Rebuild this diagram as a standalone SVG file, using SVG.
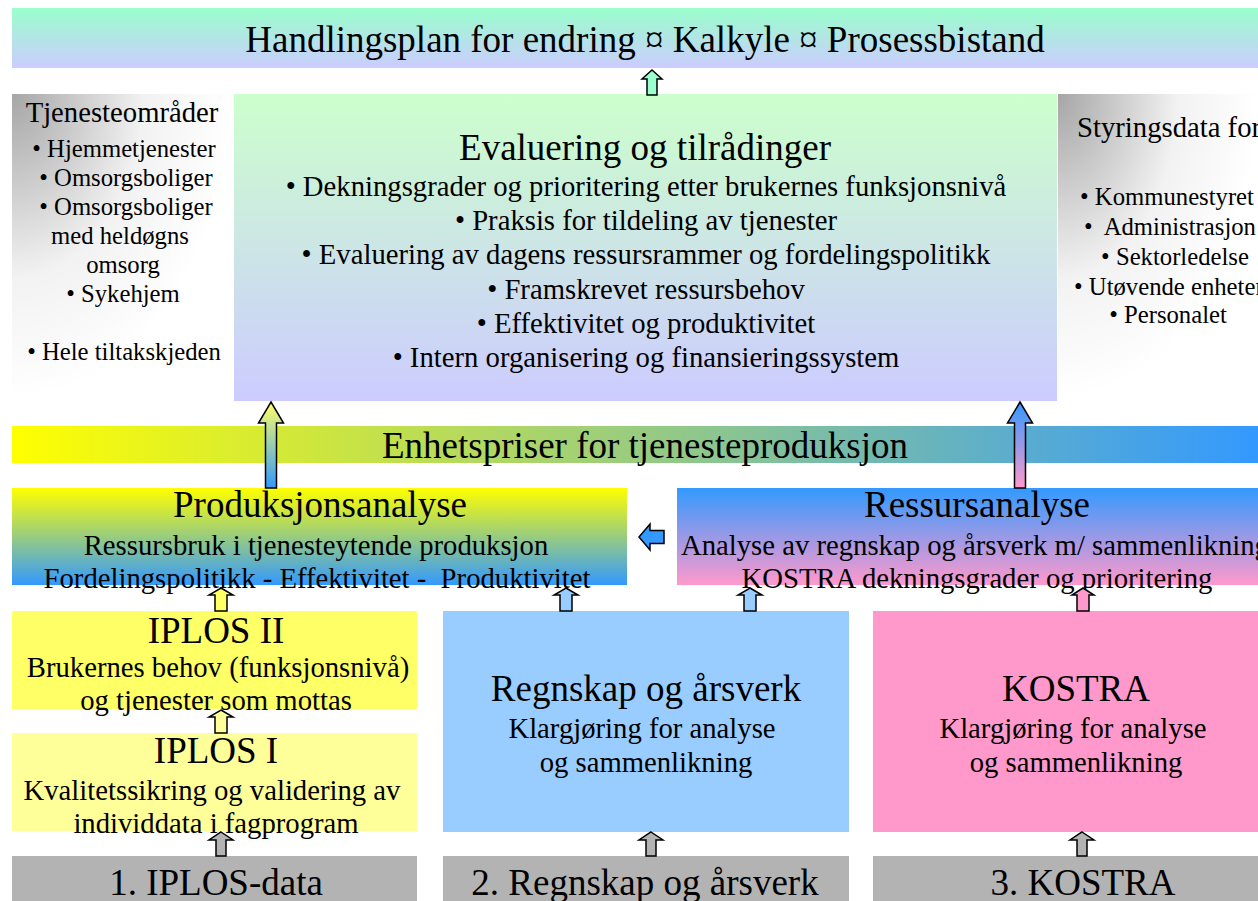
<svg xmlns="http://www.w3.org/2000/svg" width="1258" height="901" viewBox="0 0 1258 901">
<defs>
<style>
text{font-family:"Liberation Serif","Times New Roman",serif;fill:#000;text-anchor:middle}
.t36{font-size:37px}
.t28{font-size:28.7px}
.t24{font-size:24.7px}
.arr{stroke:#000;stroke-width:1.5;stroke-linejoin:miter}
</style>
<linearGradient id="gTop" x1="0" y1="0" x2="0" y2="1"><stop offset="0" stop-color="#99FFCC"/><stop offset="1" stop-color="#CCCCFF"/></linearGradient>
<linearGradient id="gEval" x1="0" y1="0" x2="0" y2="1"><stop offset="0" stop-color="#CCFFCC"/><stop offset="1" stop-color="#CCCCFF"/></linearGradient>
<linearGradient id="gBand" x1="0" y1="0" x2="1" y2="0"><stop offset="0" stop-color="#FFFF00"/><stop offset="1" stop-color="#3399FF"/></linearGradient>
<linearGradient id="gProd" x1="0" y1="0" x2="0" y2="1"><stop offset="0" stop-color="#FFFF00"/><stop offset="1" stop-color="#3399FF"/></linearGradient>
<linearGradient id="gRes" x1="0" y1="0" x2="0" y2="1"><stop offset="0" stop-color="#3399FF"/><stop offset="1" stop-color="#FF99CC"/></linearGradient>
<linearGradient id="gArrL" x1="0" y1="0" x2="0" y2="1"><stop offset="0" stop-color="#FFFF66"/><stop offset="1" stop-color="#3399FF"/></linearGradient>
<linearGradient id="gArrR" x1="0" y1="0" x2="0" y2="1"><stop offset="0" stop-color="#3399FF"/><stop offset="1" stop-color="#FF99CC"/></linearGradient>
<radialGradient id="gGray" cx="0" cy="0" r="1"><stop offset="0" stop-color="#A6A6A6"/><stop offset="0.6" stop-color="#F2F2F2"/><stop offset="1" stop-color="#FFFFFF"/></radialGradient>
</defs>
<rect width="1258" height="901" fill="#FFFFFF"/>

<g id="top-banner">
<rect x="12" y="8" width="1246" height="60" fill="url(#gTop)"/>
<text class="t36" x="645" y="52">Handlingsplan for endring ¤ Kalkyle ¤ Prosessbistand</text>
</g>

<g id="tjenesteomrader">
<rect x="12" y="94" width="220" height="306" fill="url(#gGray)"/>
<text class="t28" x="122" y="122">Tjenesteområder</text>
<text class="t24" x="124" y="157">• Hjemmetjenester</text>
<text class="t24" x="126" y="186">• Omsorgsboliger</text>
<text class="t24" x="126" y="215">• Omsorgsboliger</text>
<text class="t24" x="120" y="244">med heldøgns</text>
<text class="t24" x="123" y="273">omsorg</text>
<text class="t24" x="123" y="302">• Sykehjem</text>
<text class="t24" x="124" y="360">• Hele tiltakskjeden</text>
</g>

<g id="evaluering">
<rect x="234" y="94" width="823" height="307" fill="url(#gEval)"/>
<text class="t36" x="645" y="160">Evaluering og tilrådinger</text>
<text class="t28" x="646" y="196">• Dekningsgrader og prioritering etter brukernes funksjonsnivå</text>
<text class="t28" x="646" y="230">• Praksis for tildeling av tjenester</text>
<text class="t28" x="646" y="264">• Evaluering av dagens ressursrammer og fordelingspolitikk</text>
<text class="t28" x="646" y="299">• Framskrevet ressursbehov</text>
<text class="t28" x="646" y="333">• Effektivitet og produktivitet</text>
<text class="t28" x="646" y="367">• Intern organisering og finansieringssystem</text>
</g>

<g id="styringsdata">
<rect x="1058" y="94" width="200" height="306" fill="url(#gGray)"/>
<text class="t28" x="1077" y="137" style="text-anchor:start">Styringsdata for</text>
<text class="t24" x="1167" y="205">• Kommunestyret</text>
<text class="t24" x="1170" y="235" xml:space="preserve">•  Administrasjon</text>
<text class="t24" x="1175" y="265">• Sektorledelse</text>
<text class="t24" x="1074" y="295" style="text-anchor:start">• Utøvende enheter</text>
<text class="t24" x="1168" y="323">• Personalet</text>
</g>

<g id="enhetspriser">
<rect x="12" y="426" width="1246" height="37" fill="url(#gBand)"/>
<text class="t36" x="645" y="458">Enhetspriser for tjenesteproduksjon</text>
</g>

<g id="produksjonsanalyse">
<rect x="12" y="488" width="615" height="97" fill="url(#gProd)"/>
<text class="t36" x="320" y="517">Produksjonsanalyse</text>
<text class="t28" x="316" y="555">Ressursbruk i tjenesteytende produksjon</text>
<text class="t28" x="317" y="588" xml:space="preserve">Fordelingspolitikk - Effektivitet -  Produktivitet</text>
</g>

<g id="ressursanalyse">
<rect x="677" y="488" width="581" height="97" fill="url(#gRes)"/>
<text class="t36" x="977" y="517">Ressursanalyse</text>
<text class="t28" x="681" y="555" style="text-anchor:start">Analyse av regnskap og årsverk m/ sammenlikning</text>
<text class="t28" x="977" y="588">KOSTRA dekningsgrader og prioritering</text>
</g>

<g id="iplos2">
<rect x="12" y="611" width="405" height="98" fill="#FFFF66"/>
<text class="t36" x="216" y="643">IPLOS II</text>
<text class="t28" x="218" y="677">Brukernes behov (funksjonsnivå)</text>
<text class="t28" x="216" y="710">og tjenester som mottas</text>
</g>

<g id="iplos1">
<rect x="12" y="733" width="405" height="98" fill="#FFFF99"/>
<text class="t36" x="216" y="763">IPLOS I</text>
<text class="t28" x="212" y="800">Kvalitetssikring og validering av</text>
<text class="t28" x="216" y="833">individdata i fagprogram</text>
</g>

<g id="regnskap">
<rect x="443" y="611" width="406" height="221" fill="#99CCFF"/>
<text class="t36" x="646" y="701">Regnskap og årsverk</text>
<text class="t28" x="642" y="738">Klargjøring for analyse</text>
<text class="t28" x="646" y="772">og sammenlikning</text>
</g>

<g id="kostra">
<rect x="873" y="611" width="385" height="221" fill="#FF99CC"/>
<text class="t36" x="1076" y="701">KOSTRA</text>
<text class="t28" x="1073" y="738">Klargjøring for analyse</text>
<text class="t28" x="1076" y="772">og sammenlikning</text>
</g>

<g id="data-iplos">
<rect x="12" y="856" width="405" height="45" fill="#B3B3B3"/>
<text class="t36" x="216" y="895">1. IPLOS-data</text>
</g>
<g id="data-regnskap">
<rect x="443" y="856" width="406" height="45" fill="#B3B3B3"/>
<text class="t36" x="645" y="895">2. Regnskap og årsverk</text>
</g>
<g id="data-kostra">
<rect x="873" y="856" width="385" height="45" fill="#B3B3B3"/>
<text class="t36" x="1083" y="895">3. KOSTRA</text>
</g>

<g id="connectors" class="arr">
<path d="M652,70 L662,79 L657,79 L657,95 L647,95 L647,79 L642,79 Z" fill="#99FFCC"/>
<path d="M271,402 L283.5,423 L276.5,423 L276.5,488 L265.5,488 L265.5,423 L258.5,423 Z" fill="url(#gArrL)"/>
<path d="M1020,402 L1032.5,423 L1025.5,423 L1025.5,488 L1014.5,488 L1014.5,423 L1007.5,423 Z" fill="url(#gArrR)"/>
<path d="M639,537 L650,524 L650,530.5 L664,530.5 L664,543.5 L650,543.5 L650,550 Z" fill="#3399FF"/>
<path d="M221,588 L233,595 L227,595 L227,611 L215,611 L215,595 L209,595 Z" fill="#FFFF66"/>
<path d="M221,710 L233,717 L227,717 L227,733 L215,733 L215,717 L209,717 Z" fill="#FFFF99"/>
<path d="M566,588 L578,595 L572,595 L572,611 L560,611 L560,595 L554,595 Z" fill="#99CCFF"/>
<path d="M750,588 L762,595 L756,595 L756,611 L744,611 L744,595 L738,595 Z" fill="#99CCFF"/>
<path d="M1083,588 L1094,595 L1089,595 L1089,611 L1077,611 L1077,595 L1072,595 Z" fill="#FF99CC"/>
<path d="M221,832 L233,840 L226,840 L226,856 L216,856 L216,840 L209,840 Z" fill="#B3B3B3"/>
<path d="M651,832 L663,840 L656,840 L656,856 L646,856 L646,840 L639,840 Z" fill="#B3B3B3"/>
<path d="M1082,832 L1094,840 L1087,840 L1087,856 L1077,856 L1077,840 L1070,840 Z" fill="#B3B3B3"/>
</g>
</svg>
